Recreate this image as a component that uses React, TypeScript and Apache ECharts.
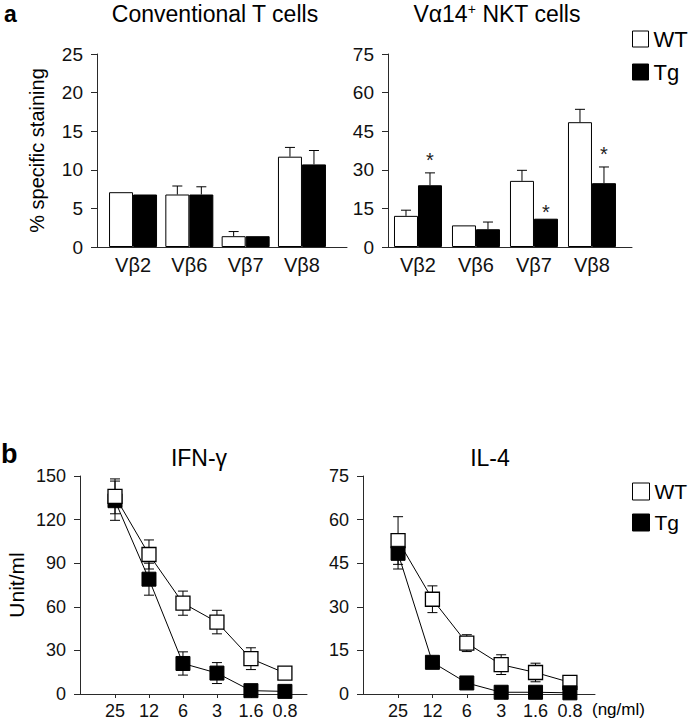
import React, { useEffect, useRef } from "react";
import * as echarts from "echarts";

// ---------- data ----------
const aCats = ["Vβ2", "Vβ6", "Vβ7", "Vβ8"];
const convWT = [7.1, 6.8, 1.4, 11.7];
const convWTErr = [0, 1.1, 0.6, 1.2];
const convTg = [6.8, 6.8, 1.4, 10.7];
const convTgErr = [0, 1.0, 0, 1.8];

const nktWT = [12.1, 8.4, 25.7, 48.5];
const nktWTErr = [2.2, 0, 4.1, 5.0];
const nktTg = [24.0, 6.9, 11.0, 24.8];
const nktTgErr = [4.8, 2.8, 0, 6.3];
const nktSig = [true, false, true, true];

const doses = ["25", "12", "6", "3", "1.6", "0.8"];
const ifnWT = [136, 96, 62.5, 49.5, 24.3, 14.4];
const ifnWTSd = [12, 10, 8.3, 8.1, 7.5, 0];
const ifnTg = [133, 79, 21, 14.4, 2.3, 1.8];
const ifnTgSd = [13.5, 11, 8, 7.2, 0, 0];

const il4WT = [52.8, 32.6, 17.5, 10.1, 7.4, 4.0];
const il4WTSd = [8.2, 4.6, 2.9, 3.4, 3.2, 0];
const il4Tg = [48.4, 10.9, 3.8, 0.6, 0.6, 0.4];
const il4TgSd = [5.4, 0, 0, 0, 0, 0];

const yConv = { max: 25, interval: 5 };
const yNkt = { max: 75, interval: 15 };
const yIfn = { max: 150, interval: 30 };
const yIl4 = { max: 75, interval: 15 };

// ---------- helpers ----------
const FONT = "'Liberation Sans', Arial, Helvetica, sans-serif";
const AX = "#2a2a2a";

function upperErr(gi: number, means: number[], errs: number[], offset: number) {
  const data = means
    .map((m, i) => [i + 1, m, m + errs[i]])
    .filter((d, i) => errs[i] > 0);
  return {
    type: "custom",
    xAxisIndex: gi,
    yAxisIndex: gi,
    silent: true,
    z: 5,
    data,
    renderItem: (params: any, api: any) => {
      const x = api.value(0);
      const lo = api.coord([x, api.value(1)]);
      const hi = api.coord([x, api.value(2)]);
      const cx = lo[0] + offset;
      const st = { stroke: "#000", lineWidth: 1 };
      return {
        type: "group",
        children: [
          { type: "line", shape: { x1: cx, y1: lo[1], x2: cx, y2: hi[1] }, style: st },
          { type: "line", shape: { x1: cx - 5, y1: hi[1], x2: cx + 5, y2: hi[1] }, style: st },
        ],
      };
    },
  };
}

function bothErr(gi: number, means: number[], sds: number[], z: number) {
  const data = means
    .map((m, i) => [i, m - sds[i], m + sds[i]])
    .filter((d, i) => sds[i] > 0);
  return {
    type: "custom",
    xAxisIndex: gi,
    yAxisIndex: gi,
    silent: true,
    z,
    data,
    renderItem: (params: any, api: any) => {
      const x = api.value(0);
      const lo = api.coord([x, api.value(1)]);
      const hi = api.coord([x, api.value(2)]);
      const cx = lo[0];
      const st = { stroke: "#000", lineWidth: 1 };
      return {
        type: "group",
        children: [
          { type: "line", shape: { x1: cx, y1: lo[1], x2: cx, y2: hi[1] }, style: st },
          { type: "line", shape: { x1: cx - 5, y1: hi[1], x2: cx + 5, y2: hi[1] }, style: st },
          { type: "line", shape: { x1: cx - 5, y1: lo[1], x2: cx + 5, y2: lo[1] }, style: st },
        ],
      };
    },
  };
}

function starSeries(gi: number, means: number[], errs: number[], sig: boolean[], offset: number) {
  const data = means
    .map((m, i) => [i + 1, m + errs[i], errs[i] > 0 ? 1 : 0])
    .filter((d, i) => sig[i]);
  return {
    type: "custom",
    xAxisIndex: gi,
    yAxisIndex: gi,
    silent: true,
    z: 6,
    data,
    renderItem: (params: any, api: any) => {
      const p = api.coord([api.value(0), api.value(1)]);
      const gap = api.value(2) ? 13 : 7;
      return {
        type: "text",
        x: p[0] + offset,
        y: p[1] - gap,
        style: {
          text: "*",
          fontSize: 20,
          fontFamily: FONT,
          fill: "#222",
          align: "center",
          verticalAlign: "middle",
          textAlign: "center",
          textVerticalAlign: "middle",
        },
      };
    },
  };
}

function yAxis(gi: number, cfg: { max: number; interval: number }, fs: number, extra: any = {}) {
  return {
    gridIndex: gi,
    type: "value",
    min: 0,
    max: cfg.max,
    interval: cfg.interval,
    axisLine: { show: true, onZero: false, lineStyle: { color: AX, width: 1 } },
    axisTick: { show: true, length: 6, lineStyle: { color: AX, width: 1 } },
    axisLabel: { fontSize: fs, margin: 14, color: "#111", fontFamily: FONT },
    splitLine: { show: false },
    ...extra,
  };
}

function xBarAxis(gi: number, min: number, max: number) {
  return {
    gridIndex: gi,
    type: "value",
    min,
    max,
    axisLine: { show: true, onZero: false, lineStyle: { color: AX, width: 1 } },
    axisTick: { show: false },
    splitLine: { show: false },
    axisLabel: {
      customValues: aCats.map((c, i) => i + 1),
      formatter: (v: number) => aCats[Math.round(v) - 1] ?? "",
      fontSize: 20,
      margin: 8,
      color: "#111",
      fontFamily: FONT,
    },
  };
}

function xDoseAxis(gi: number, min: number, max: number) {
  return {
    gridIndex: gi,
    type: "value",
    min,
    max,
    axisLine: { show: true, onZero: false, lineStyle: { color: AX, width: 1 } },
    axisTick: {
      show: true,
      length: 4,
      customValues: doses.map((d, i) => i),
      lineStyle: { color: AX, width: 1 },
    },
    splitLine: { show: false },
    axisLabel: {
      customValues: doses.map((d, i) => i),
      formatter: (v: number) => doses[Math.round(v)] ?? "",
      fontSize: 18,
      margin: 8,
      color: "#111",
      fontFamily: FONT,
    },
  };
}

const wtBarStyle = { color: "#fff", borderColor: "#000", borderWidth: 1 };
const tgBarStyle = { color: "#000", borderColor: "#000", borderWidth: 1 };

function barSeries(gi: number, name: string, vals: number[], style: any) {
  return {
    type: "bar",
    name,
    xAxisIndex: gi,
    yAxisIndex: gi,
    data: vals.map((v, i) => [i + 1, v]),
    barWidth: 24,
    barGap: "0%",
    itemStyle: style,
    z: 3,
  };
}

function lineSeries(gi: number, name: string, vals: number[], wt: boolean, z: number) {
  return {
    type: "line",
    name,
    xAxisIndex: gi,
    yAxisIndex: gi,
    data: vals.map((v, i) => [i, v]),
    symbol: "rect",
    symbolSize: 14,
    showAllSymbol: true,
    lineStyle: { color: "#000", width: 1 },
    itemStyle: wt
      ? { color: "#fff", borderColor: "#000", borderWidth: 1.3 }
      : { color: "#000", borderColor: "#000", borderWidth: 1 },
    z,
  };
}

function txt(text: string, x: number, y: number, fontSize: number, opts: any = {}) {
  const align = opts.align || "center";
  return {
    type: "text",
    x,
    y,
    silent: true,
    style: {
      text,
      fontSize,
      fontFamily: FONT,
      fontWeight: opts.bold ? "bold" : "normal",
      fill: "#000",
      align,
      verticalAlign: "middle",
      textAlign: align,
      textVerticalAlign: "middle",
      lineHeight: opts.lineHeight,
      rich: opts.rich,
    },
  };
}

function legend(top: number, size: number, gap: number, fs: number) {
  return {
    left: 632,
    top,
    orient: "vertical",
    padding: 0,
    itemWidth: size,
    itemHeight: size,
    itemGap: gap,
    selectedMode: false,
    textStyle: { fontSize: fs, fontFamily: FONT, color: "#000" },
    data: [
      { name: "WT", icon: "rect", itemStyle: { color: "#fff", borderColor: "#000", borderWidth: 1 } },
      { name: "Tg", icon: "rect", itemStyle: { color: "#000", borderColor: "#000", borderWidth: 1 } },
    ],
  };
}

export default function App() {
  const ref = useRef<HTMLDivElement>(null);
  useEffect(() => {
    if (!ref.current) return;
    const chart = echarts.init(ref.current, null, { renderer: "svg" });
    const option: any = {
      animation: false,
      backgroundColor: "#fff",
      grid: [
        { left: 97, top: 54, width: 250, height: 193 },
        { left: 388, top: 54, width: 244, height: 193 },
        { left: 80, top: 476, width: 227, height: 218 },
        { left: 363, top: 476, width: 232, height: 218 },
      ],
      xAxis: [
        xBarAxis(0, 0.36, 4.8),
        xBarAxis(1, 0.483, 4.69),
        xDoseAxis(2, -1.03, 5.65),
        xDoseAxis(3, -1.02, 5.73),
      ],
      yAxis: [
        yAxis(0, yConv, 19, {
          name: "% specific staining",
          nameLocation: "middle",
          nameGap: 50,
          nameTextStyle: { fontSize: 20, fontFamily: FONT, color: "#000" },
        }),
        yAxis(1, yNkt, 19),
        yAxis(2, yIfn, 18, {
          name: "Unit/ml",
          nameLocation: "middle",
          nameGap: 53,
          nameTextStyle: { fontSize: 21, fontFamily: FONT, color: "#000" },
        }),
        yAxis(3, yIl4, 18),
      ],
      legend: [legend(28, 16, 11, 22), legend(481, 17, 10, 21)],
      series: [
        barSeries(0, "WT", convWT, wtBarStyle),
        barSeries(0, "Tg", convTg, tgBarStyle),
        upperErr(0, convWT, convWTErr, -12),
        upperErr(0, convTg, convTgErr, 12),
        barSeries(1, "WT", nktWT, wtBarStyle),
        barSeries(1, "Tg", nktTg, tgBarStyle),
        upperErr(1, nktWT, nktWTErr, -12),
        upperErr(1, nktTg, nktTgErr, 12),
        starSeries(1, nktTg, nktTgErr, nktSig, 12),
        bothErr(2, ifnTg, ifnTgSd, 1),
        bothErr(2, ifnWT, ifnWTSd, 1),
        lineSeries(2, "Tg", ifnTg, false, 3),
        lineSeries(2, "WT", ifnWT, true, 4),
        bothErr(3, il4WT, il4WTSd, 1),
        bothErr(3, il4Tg, il4TgSd, 1),
        lineSeries(3, "WT", il4WT, true, 3),
        lineSeries(3, "Tg", il4Tg, false, 4),
      ],
      graphic: [
        txt("a", 4, 14, 23, { bold: true, align: "left" }),
        txt("b", 1, 454, 27, { bold: true, align: "left" }),
        txt("Conventional T cells", 215, 14, 23, { lineHeight: 24 }),
        txt("{m|Vα14}{s|+}{m| NKT cells}", 497, 14, 23, {
          rich: {
            m: { fontSize: 23, fontFamily: FONT, fill: "#000", lineHeight: 24 },
            s: { fontSize: 14, fontFamily: FONT, fill: "#000", verticalAlign: "top", lineHeight: 14 },
          },
        }),
        txt("IFN-γ", 199, 458, 23),
        txt("IL-4", 490, 458, 23),
        txt("(ng/ml)", 592, 709, 17, { align: "left" }),
      ],
    };
    chart.setOption(option);
    return () => chart.dispose();
  }, []);
  return (
    <div
      ref={ref}
      style={{ position: "absolute", left: 0, top: 0, width: 700, height: 720, background: "#fff" }}
    />
  );
}
